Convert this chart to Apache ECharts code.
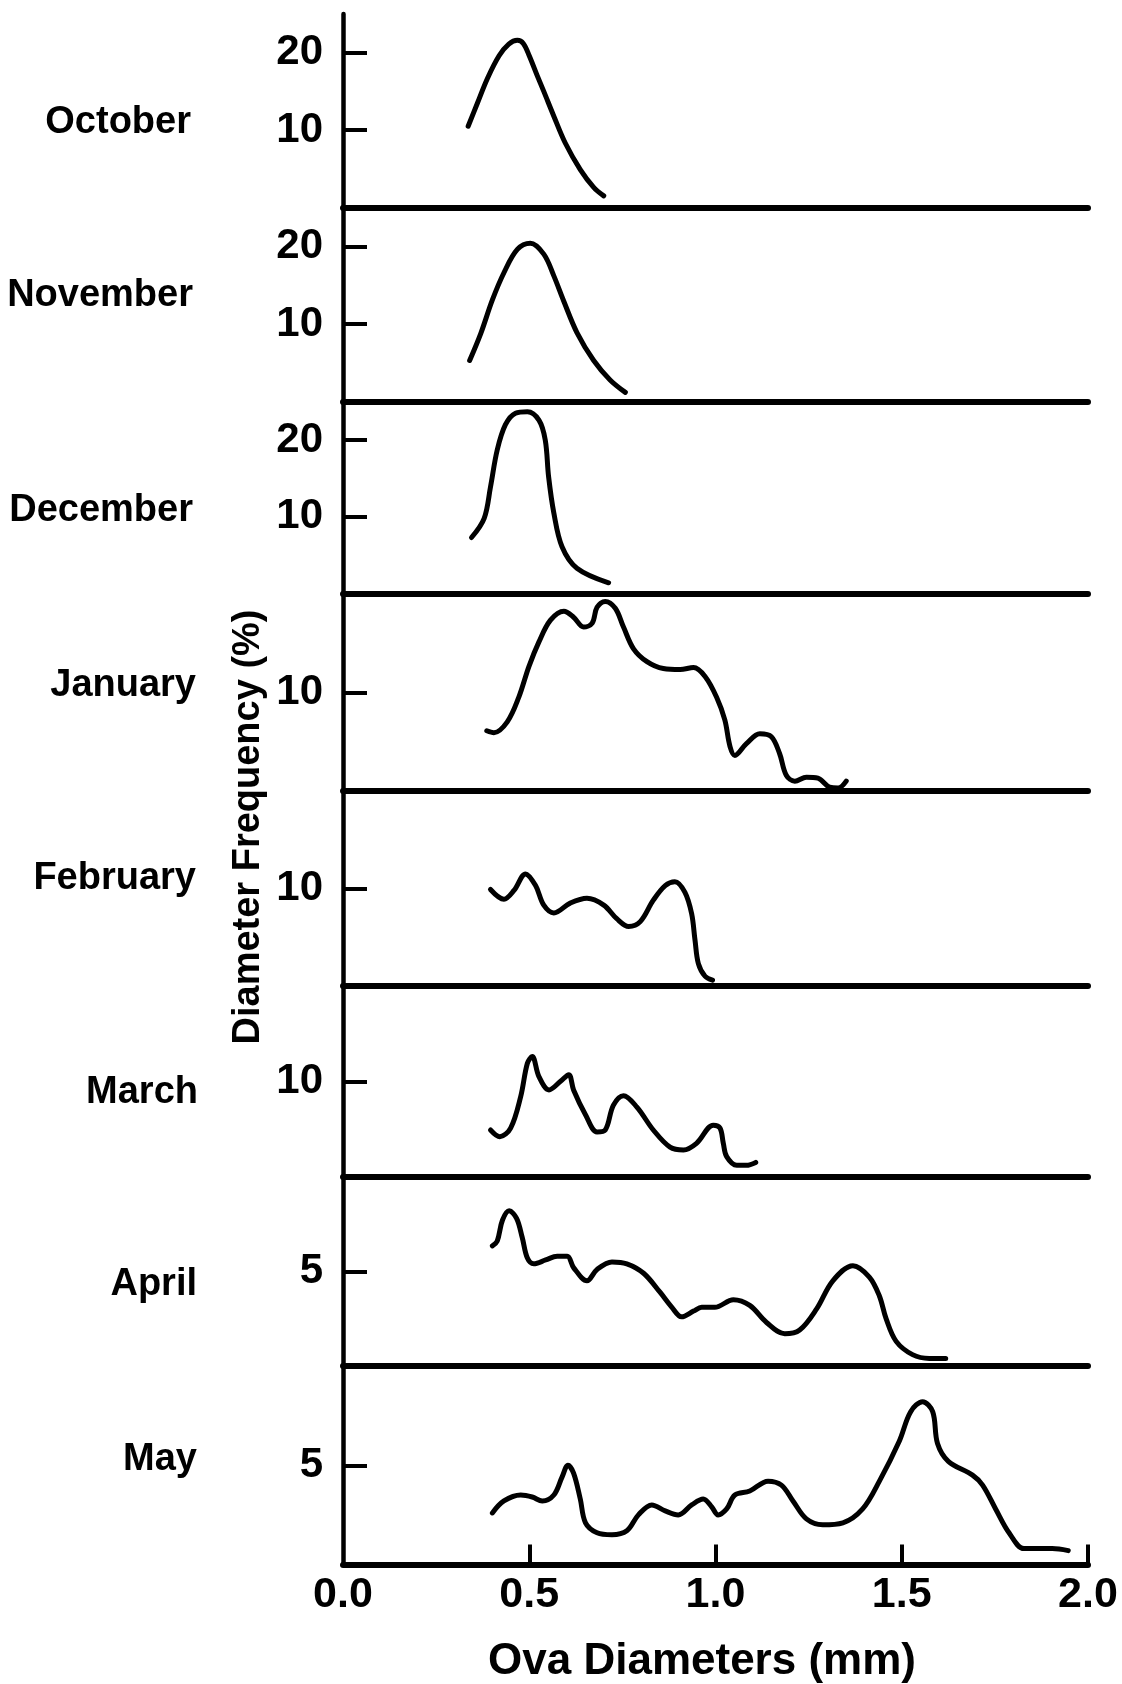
<!DOCTYPE html>
<html>
<head>
<meta charset="utf-8">
<title>Ova diameter frequency by month</title>
<script src="https://cdn.jsdelivr.net/npm/echarts@6/dist/echarts.min.js"></script>
<style>
  html, body { margin: 0; padding: 0; background: #ffffff; }
  #chart { width: 1122px; height: 1684px; }
</style>
</head>
<body>
<div id="chart"></div>
<script>
// Monthly ova diameter frequency curves: [diameter (mm), frequency (%)]
const october = [[0.336,10.5],[0.361,13.5],[0.388,16.7],[0.419,19.6],[0.445,21.1],[0.468,21.6],[0.484,21.2],[0.500,19.6],[0.520,17.2],[0.539,15.0],[0.566,11.8],[0.597,8.3],[0.637,4.9],[0.673,2.6],[0.700,1.5]];
const november = [[0.340,5.3],[0.370,8.8],[0.401,13.1],[0.432,16.6],[0.468,19.6],[0.503,20.4],[0.539,19.0],[0.566,16.2],[0.593,12.9],[0.628,8.9],[0.673,5.3],[0.717,2.8],[0.758,1.2]];
const december = [[0.345,7.3],[0.379,9.8],[0.396,13.9],[0.414,18.7],[0.436,22.0],[0.463,23.5],[0.495,23.7],[0.526,22.6],[0.543,20.0],[0.552,15.2],[0.566,10.5],[0.588,6.1],[0.628,3.3],[0.713,1.4]];
const january = [[0.386,6.1],[0.405,5.9],[0.441,7.0],[0.472,9.5],[0.499,12.6],[0.526,15.1],[0.557,17.3],[0.593,18.2],[0.619,17.6],[0.646,16.6],[0.669,17.0],[0.682,18.6],[0.704,19.2],[0.731,18.5],[0.753,16.6],[0.780,14.4],[0.816,13.1],[0.860,12.4],[0.905,12.3],[0.941,12.5],[0.972,11.6],[1.003,9.5],[1.025,7.2],[1.039,4.5],[1.052,3.6],[1.083,4.8],[1.119,5.8],[1.150,5.5],[1.172,3.8],[1.190,1.6],[1.213,1.0],[1.244,1.4],[1.275,1.3],[1.306,0.4],[1.329,0.3],[1.351,1.0]];
const february = [[0.396,9.9],[0.432,8.9],[0.459,9.8],[0.490,11.5],[0.517,10.3],[0.539,8.3],[0.566,7.5],[0.610,8.5],[0.655,9.0],[0.700,8.3],[0.735,6.9],[0.767,6.1],[0.798,6.6],[0.833,8.8],[0.865,10.3],[0.891,10.7],[0.918,9.6],[0.936,7.4],[0.945,4.7],[0.954,2.3],[0.972,1.0],[0.992,0.6]];
const march = [[0.396,4.9],[0.421,4.2],[0.450,5.1],[0.477,8.4],[0.495,11.9],[0.508,12.6],[0.526,10.5],[0.553,9.1],[0.584,10.0],[0.606,10.7],[0.619,9.1],[0.651,6.5],[0.682,4.7],[0.704,4.9],[0.726,7.5],[0.753,8.5],[0.789,7.3],[0.833,4.9],[0.878,3.1],[0.914,2.8],[0.949,3.5],[0.994,5.4],[1.012,5.1],[1.021,3.5],[1.030,2.1],[1.057,1.2],[1.083,1.2],[1.108,1.5]];
const april = [[0.401,6.35],[0.414,6.6],[0.428,7.7],[0.446,8.2],[0.466,7.8],[0.481,6.8],[0.495,5.7],[0.512,5.4],[0.544,5.6],[0.575,5.8],[0.602,5.8],[0.619,5.2],[0.655,4.5],[0.682,5.1],[0.722,5.5],[0.762,5.4],[0.807,4.9],[0.851,3.9],[0.883,3.1],[0.909,2.6],[0.941,2.9],[0.963,3.1],[0.998,3.1],[1.048,3.5],[1.092,3.2],[1.137,2.3],[1.186,1.7],[1.226,1.9],[1.271,3.0],[1.315,4.5],[1.369,5.3],[1.413,4.7],[1.440,3.7],[1.458,2.5],[1.485,1.3],[1.529,0.6],[1.574,0.4],[1.618,0.4]];
const may = [[0.401,2.6],[0.432,3.2],[0.477,3.5],[0.508,3.4],[0.535,3.2],[0.566,3.5],[0.588,4.4],[0.604,5.0],[0.619,4.6],[0.637,3.3],[0.651,2.1],[0.682,1.6],[0.722,1.5],[0.762,1.7],[0.793,2.5],[0.829,3.0],[0.865,2.7],[0.900,2.5],[0.936,3.0],[0.967,3.3],[0.990,2.9],[1.007,2.5],[1.030,2.8],[1.052,3.5],[1.092,3.7],[1.141,4.2],[1.177,4.0],[1.208,3.2],[1.244,2.3],[1.288,2.0],[1.342,2.1],[1.395,2.8],[1.440,4.2],[1.493,6.2],[1.524,7.7],[1.556,8.2],[1.583,7.7],[1.596,6.1],[1.625,5.2],[1.690,4.5],[1.717,4.0],[1.752,2.8],[1.788,1.6],[1.828,0.8],[1.868,0.8],[1.904,0.8],[1.947,0.7]];

const months = ['October', 'November', 'December', 'January', 'February', 'March', 'April', 'May'];
const monthSeries = [october, november, december, january, february, march, april, may];
const freqMax = [25, 25, 25, 20, 20, 20, 10, 10];
const freqTicks = [[10, 20], [10, 20], [10, 20], [10], [10], [10], [5], [5]];
const diameterTicks = [0, 0.5, 1.0, 1.5, 2.0];

// Page layout (pixels): stacked panel edges and label placement
const panelEdges = [14, 207.5, 401.7, 593.5, 791, 986, 1176.7, 1366, 1564.5];
const plotLeft = 343;
const plotWidth = 745;
const monthLabelRight = [191, 193, 193, 196, 196, 198, 197, 197];
const monthLabelY = [123, 296, 511, 686, 879, 1093, 1285, 1460];

const ink = '#000000';
const face = '"Liberation Sans", Arial, sans-serif';

const grids = [], xAxes = [], yAxes = [], series = [], graphics = [];
const last = months.length - 1;

months.forEach((name, i) => {
  grids.push({
    left: plotLeft, width: plotWidth,
    top: panelEdges[i], height: panelEdges[i + 1] - panelEdges[i]
  });
  xAxes.push({
    gridIndex: i, type: 'value', min: 0, max: 2, position: 'bottom',
    axisLine: { show: true, onZero: false, lineStyle: { color: ink, width: 6 } },
    axisTick: i === last
      ? { show: true, inside: true, length: 20, customValues: diameterTicks.slice(1), lineStyle: { color: ink, width: 4 } }
      : { show: false },
    axisLabel: i === last
      ? { show: true, customValues: diameterTicks, margin: 9, color: ink,
          fontFamily: face, fontWeight: 'bold', fontSize: 43,
          formatter: v => v.toFixed(1) }
      : { show: false },
    splitLine: { show: false }
  });
  yAxes.push({
    gridIndex: i, type: 'value', min: 0, max: freqMax[i],
    axisLine: { show: true, lineStyle: { color: ink, width: 4.5 } },
    axisTick: { show: true, inside: true, length: 24, customValues: freqTicks[i], lineStyle: { color: ink, width: 4 } },
    axisLabel: { show: true, customValues: freqTicks[i], margin: 20, color: ink,
      fontFamily: face, fontWeight: 'bold', fontSize: 42, padding: [6, 0, 0, 0] },
    splitLine: { show: false }
  });
  series.push({
    type: 'line', name: name, xAxisIndex: i, yAxisIndex: i,
    data: monthSeries[i], smooth: 0.35, showSymbol: false, silent: true,
    lineStyle: { color: ink, width: 5, cap: 'round', join: 'round' }
  });
  graphics.push({
    type: 'text', x: monthLabelRight[i], y: monthLabelY[i],
    style: { text: name, fill: ink, align: 'right', verticalAlign: 'middle',
      font: 'bold 38px ' + face }
  });
});

graphics.push({
  type: 'text', x: 249, y: 827, rotation: Math.PI / 2,
  style: { text: 'Diameter Frequency (%)', fill: ink, align: 'center', verticalAlign: 'middle',
    font: 'bold 38px ' + face }
});
graphics.push({
  type: 'text', x: 702, y: 1662,
  style: { text: 'Ova Diameters (mm)', fill: ink, align: 'center', verticalAlign: 'middle',
    font: 'bold 44px ' + face }
});

const chart = echarts.init(document.getElementById('chart'), null, { renderer: 'canvas' });
chart.setOption({
  animation: false,
  backgroundColor: '#ffffff',
  grid: grids,
  xAxis: xAxes,
  yAxis: yAxes,
  series: series,
  graphic: graphics
});
</script>
</body>
</html>
